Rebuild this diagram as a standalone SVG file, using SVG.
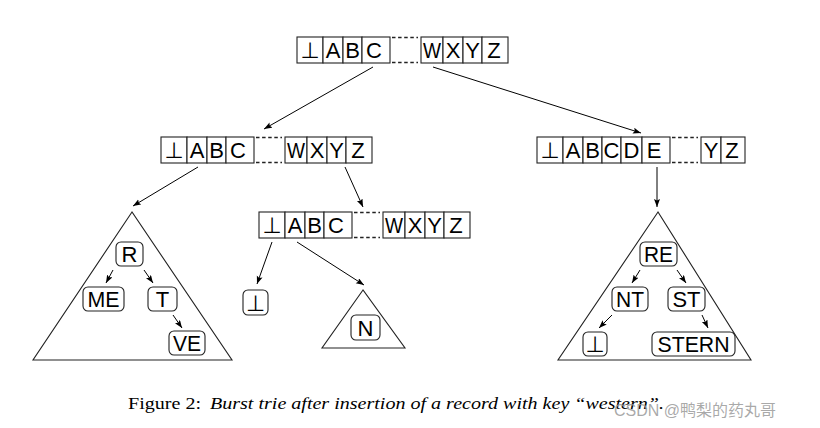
<svg xmlns="http://www.w3.org/2000/svg" width="820" height="428" viewBox="0 0 820 428">
<defs>
<marker id="ah" markerUnits="userSpaceOnUse" markerWidth="9" markerHeight="7" refX="8" refY="3" orient="auto">
<path d="M0,0 L8,3 L0,6 L1.5,3 z" fill="#000"/>
</marker>
<style>
.c{fill:#fff;stroke:#222;stroke-width:1.1}
.d{stroke:#222;stroke-width:1.6;stroke-dasharray:3.5 2.6;fill:none}
.t{font-family:"Liberation Sans",Arial,sans-serif;font-size:22px;text-anchor:middle;fill:#000}
.b{font-family:"DejaVu Sans","Liberation Sans",sans-serif;font-size:22px;text-anchor:middle;fill:#000}
.n{fill:#fff;stroke:#222;stroke-width:1.1}
.tri{fill:#fff;stroke:#222;stroke-width:1.1}
.e{stroke:#000;stroke-width:1;fill:none;marker-end:url(#ah)}
.cap{font-family:"Liberation Serif","DejaVu Serif",serif;font-size:16px;fill:#000}
</style>
</defs>
<rect width="820" height="428" fill="#fff"/>

<g id="root">
<rect class="c" x="297" y="37" width="26" height="26"/><text class="b" x="310" y="58">⊥</text>
<rect class="c" x="323" y="37" width="20" height="26"/><text class="t" x="333" y="58">A</text>
<rect class="c" x="343" y="37" width="19" height="26"/><text class="t" x="352.5" y="58">B</text>
<rect class="c" x="362" y="37" width="28" height="26"/><text class="t" x="374" y="58">C</text>
<line class="d" x1="392" y1="37.5" x2="418" y2="37.5"/><line class="d" x1="392" y1="62.5" x2="418" y2="62.5"/>
<rect class="c" x="421" y="37" width="22" height="26"/><text class="t" x="432" y="58" textLength="18" lengthAdjust="spacingAndGlyphs">W</text>
<rect class="c" x="443" y="37" width="20" height="26"/><text class="t" x="453" y="58">X</text>
<rect class="c" x="463" y="37" width="19" height="26"/><text class="t" x="472.5" y="58">Y</text>
<rect class="c" x="482" y="37" width="26" height="26"/><text class="t" x="494" y="58">Z</text>
</g>

<g id="left2">
<rect class="c" x="161" y="137" width="26" height="26"/><text class="b" x="174" y="158">⊥</text>
<rect class="c" x="187" y="137" width="20" height="26"/><text class="t" x="197" y="158">A</text>
<rect class="c" x="207" y="137" width="19" height="26"/><text class="t" x="216.5" y="158">B</text>
<rect class="c" x="226" y="137" width="28" height="26"/><text class="t" x="238" y="158">C</text>
<line class="d" x1="256" y1="137.5" x2="282" y2="137.5"/><line class="d" x1="256" y1="162.5" x2="282" y2="162.5"/>
<rect class="c" x="285" y="137" width="22" height="26"/><text class="t" x="296" y="158" textLength="18" lengthAdjust="spacingAndGlyphs">W</text>
<rect class="c" x="307" y="137" width="20" height="26"/><text class="t" x="317" y="158">X</text>
<rect class="c" x="327" y="137" width="19" height="26"/><text class="t" x="336.5" y="158">Y</text>
<rect class="c" x="346" y="137" width="26" height="26"/><text class="t" x="358" y="158">Z</text>
</g>

<g id="right2">
<rect class="c" x="537" y="137" width="26" height="26"/><text class="b" x="550" y="158">⊥</text>
<rect class="c" x="563" y="137" width="20" height="26"/><text class="t" x="573" y="158">A</text>
<rect class="c" x="583" y="137" width="19" height="26"/><text class="t" x="592.5" y="158">B</text>
<rect class="c" x="602" y="137" width="19" height="26"/><text class="t" x="611.5" y="158">C</text>
<rect class="c" x="621" y="137" width="21" height="26"/><text class="t" x="631.5" y="158">D</text>
<rect class="c" x="642" y="137" width="28" height="26"/><text class="t" x="654" y="158">E</text>
<line class="d" x1="672" y1="137.5" x2="698" y2="137.5"/><line class="d" x1="672" y1="162.5" x2="698" y2="162.5"/>
<rect class="c" x="701" y="137" width="20" height="26"/><text class="t" x="711" y="158">Y</text>
<rect class="c" x="721" y="137" width="24" height="26"/><text class="t" x="732" y="158">Z</text>
</g>

<g id="mid">
<rect class="c" x="259" y="212" width="26" height="26"/><text class="b" x="272" y="233">⊥</text>
<rect class="c" x="285" y="212" width="20" height="26"/><text class="t" x="295" y="233">A</text>
<rect class="c" x="305" y="212" width="19" height="26"/><text class="t" x="314.5" y="233">B</text>
<rect class="c" x="324" y="212" width="28" height="26"/><text class="t" x="336" y="233">C</text>
<line class="d" x1="354" y1="212.5" x2="380" y2="212.5"/><line class="d" x1="354" y1="237.5" x2="380" y2="237.5"/>
<rect class="c" x="383" y="212" width="22" height="26"/><text class="t" x="394" y="233" textLength="18" lengthAdjust="spacingAndGlyphs">W</text>
<rect class="c" x="405" y="212" width="20" height="26"/><text class="t" x="415" y="233">X</text>
<rect class="c" x="425" y="212" width="19" height="26"/><text class="t" x="434.5" y="233">Y</text>
<rect class="c" x="444" y="212" width="26" height="26"/><text class="t" x="456" y="233">Z</text>
</g>

<g id="tri1">
<polygon class="tri" points="132,212 33,360 232,360"/>
<g id="nR"><rect class="n" x="116" y="242" width="27" height="24" rx="5"/><text class="t" x="129.5" y="262">R</text></g>
<g id="nME"><rect class="n" x="83" y="287" width="41" height="24" rx="5"/><text class="t" x="103.5" y="307" textLength="32" lengthAdjust="spacingAndGlyphs">ME</text></g>
<g id="nT"><rect class="n" x="148" y="287" width="29" height="24" rx="5"/><text class="t" x="162.5" y="307">T</text></g>
<g id="nVE"><rect class="n" x="169" y="331" width="36" height="24" rx="5"/><text class="t" x="187" y="351" textLength="28" lengthAdjust="spacingAndGlyphs">VE</text></g>
</g>

<g id="leafBot">
<rect class="n" x="243" y="290" width="25" height="25" rx="5"/><text class="b" x="255.5" y="310.5">⊥</text>
</g>

<g id="tri2">
<polygon class="tri" points="363,290 322,348 405,348"/>
<g id="nN"><rect class="n" x="351" y="315" width="29" height="25" rx="5"/><text class="t" x="365.5" y="335.5">N</text></g>
</g>

<g id="tri3">
<polygon class="tri" points="658,212 558,360 751,360"/>
<g id="nRE"><rect class="n" x="640" y="242" width="37" height="24" rx="5"/><text class="t" x="658.5" y="262" textLength="29" lengthAdjust="spacingAndGlyphs">RE</text></g>
<g id="nNT"><rect class="n" x="612" y="287" width="36" height="24" rx="5"/><text class="t" x="630" y="307" textLength="28" lengthAdjust="spacingAndGlyphs">NT</text></g>
<g id="nST"><rect class="n" x="668" y="287" width="37" height="24" rx="5"/><text class="t" x="686.5" y="307" textLength="28" lengthAdjust="spacingAndGlyphs">ST</text></g>
<g id="nBot"><rect class="n" x="583" y="332" width="24" height="24" rx="5"/><text class="b" x="595" y="352">⊥</text></g>
<g id="nSTERN"><rect class="n" x="652" y="332" width="83" height="24" rx="5"/><text class="t" x="693.5" y="352" textLength="72" lengthAdjust="spacingAndGlyphs">STERN</text></g>
</g>

<g id="connectors">
<line class="e" x1="373" y1="67" x2="264" y2="129"/>
<line class="e" x1="433" y1="67" x2="641" y2="133"/>
<line class="e" x1="198" y1="167" x2="133" y2="206"/>
<line class="e" x1="345" y1="167" x2="363" y2="207"/>
<line class="e" x1="657" y1="167" x2="657" y2="207"/>
<line class="e" x1="272" y1="242" x2="257" y2="284"/>
<line class="e" x1="297" y1="242" x2="364" y2="285"/>
<line class="e" x1="113" y1="270" x2="106" y2="283"/>
<line class="e" x1="144" y1="270" x2="153" y2="283"/>
<line class="e" x1="173" y1="315" x2="182" y2="328"/>
<line class="e" x1="640" y1="270" x2="632" y2="283"/>
<line class="e" x1="677" y1="270" x2="686" y2="283"/>
<line class="e" x1="612" y1="315" x2="599" y2="328"/>
<line class="e" x1="702" y1="315" x2="708" y2="328"/>
</g>

<text class="cap" x="128" y="409" textLength="73" lengthAdjust="spacingAndGlyphs">Figure 2:</text>
<text class="cap" x="210" y="409" font-style="italic" textLength="454" lengthAdjust="spacingAndGlyphs">Burst trie after insertion of a record with key “western”.</text>
<text x="614" y="416" font-family="'Liberation Sans','Noto Sans CJK SC',sans-serif" font-size="16" fill="#9a9a9a" fill-opacity="0.85">CSDN @鸭梨的药丸哥</text>
</svg>
